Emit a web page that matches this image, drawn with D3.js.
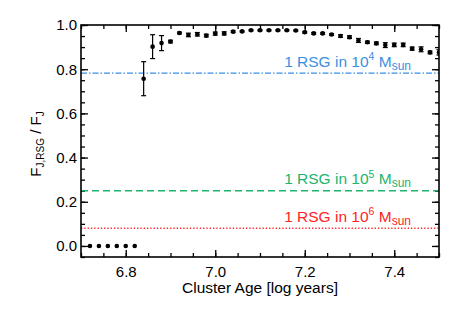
<!DOCTYPE html>
<html>
<head>
<meta charset="utf-8">
<script src="https://cdn.jsdelivr.net/npm/d3@7"></script>
<style>
  body { margin: 0; background: #fff; }
  svg text { font-family: "Liberation Sans", Arial, sans-serif; }
</style>
</head>
<body>
<div id="chart"></div>
<script>
// cluster ages (log years) and RSG flux fraction, with symmetric errors
const ages = [6.72, 6.74, 6.76, 6.78, 6.80, 6.82, 6.84, 6.86, 6.88, 6.90,
              6.92, 6.94, 6.96, 6.98, 7.00, 7.02, 7.04, 7.06, 7.08, 7.10,
              7.12, 7.14, 7.16, 7.18, 7.20, 7.22, 7.24, 7.26, 7.28, 7.30,
              7.32, 7.34, 7.36, 7.38, 7.40, 7.42, 7.44, 7.46, 7.48, 7.50];
const frac = [0.0, 0.0, 0.0, 0.0, 0.0, 0.0, 0.757, 0.902, 0.918, 0.925,
              0.964, 0.955, 0.958, 0.952, 0.961, 0.962, 0.970, 0.971, 0.976, 0.976,
              0.976, 0.976, 0.976, 0.975, 0.967, 0.962, 0.962, 0.957, 0.950, 0.945,
              0.930, 0.922, 0.917, 0.909, 0.910, 0.910, 0.893, 0.890, 0.876, 0.876];
const errs = [0, 0, 0, 0, 0, 0, 0.077, 0.054, 0.034, 0.006,
              0.004, 0.008, 0.008, 0.006, 0.007, 0.007, 0.004, 0.003, 0.003, 0.003,
              0.003, 0.003, 0.003, 0.003, 0.004, 0.004, 0.004, 0.004, 0.006, 0.006,
              0.009, 0.005, 0.006, 0.011, 0.008, 0.008, 0.007, 0.011, 0.006, 0.012];

// reference levels: 1 RSG in 10^4, 10^5, 10^6 Msun
const refPower = ["4", "5", "6"];
const refLevel = [0.782, 0.25, 0.08];
const refColor = ["#3b8fe2", "#21b46e", "#ff2424"];
const refDash = ["6,2,1.5,2", "7,4", "1.3,2"];

const xTicks = [6.8, 7.0, 7.2, 7.4];
const yTicks = [0.0, 0.2, 0.4, 0.6, 0.8, 1.0];

const width = 463, height = 309;
const margin = {top: 25, right: 24, bottom: 52, left: 81};

const svg = d3.select("#chart").append("svg")
    .attr("width", width)
    .attr("height", height);

const x = d3.scaleLinear().domain([6.7, 7.5]).range([margin.left, width - margin.right]);
const y = d3.scaleLinear().domain([-0.05, 1.0]).range([height - margin.bottom, margin.top]);

const x0 = x.range()[0], x1 = x.range()[1];
const y0 = y.range()[0], y1 = y.range()[1];

// clip for marks
svg.append("clipPath").attr("id", "plotclip")
  .append("rect")
    .attr("x", x0).attr("y", y1)
    .attr("width", x1 - x0).attr("height", y0 - y1);

const minorX = d3.range(6.7, 7.5001, 0.05);
const minorY = d3.range(-0.05, 1.0001, 0.05);

function styleAxis(g) {
    g.select(".domain").remove();
    g.selectAll("line").attr("stroke", "#000").attr("stroke-width", 1.3);
    g.selectAll("text").attr("font-size", 15).attr("fill", "#000");
}

// bottom
svg.append("g").attr("transform", `translate(0,${y0})`)
    .call(d3.axisBottom(x).tickValues(xTicks).tickFormat(d3.format(".1f")).tickSize(-7).tickPadding(9))
    .call(styleAxis);
svg.append("g").attr("transform", `translate(0,${y0})`)
    .call(d3.axisBottom(x).tickValues(minorX).tickFormat("").tickSize(-4))
    .call(styleAxis);
// top
svg.append("g").attr("transform", `translate(0,${y1})`)
    .call(d3.axisTop(x).tickValues(xTicks).tickFormat("").tickSize(-7))
    .call(styleAxis);
svg.append("g").attr("transform", `translate(0,${y1})`)
    .call(d3.axisTop(x).tickValues(minorX).tickFormat("").tickSize(-4))
    .call(styleAxis);
// left
svg.append("g").attr("transform", `translate(${x0},0)`)
    .call(d3.axisLeft(y).tickValues(yTicks).tickFormat(d3.format(".1f")).tickSize(-7).tickPadding(4))
    .call(styleAxis);
svg.append("g").attr("transform", `translate(${x0},0)`)
    .call(d3.axisLeft(y).tickValues(minorY).tickFormat("").tickSize(-4))
    .call(styleAxis);
// right
svg.append("g").attr("transform", `translate(${x1},0)`)
    .call(d3.axisRight(y).tickValues(yTicks).tickFormat("").tickSize(-7))
    .call(styleAxis);
svg.append("g").attr("transform", `translate(${x1},0)`)
    .call(d3.axisRight(y).tickValues(minorY).tickFormat("").tickSize(-4))
    .call(styleAxis);

// reference lines and labels
const plot = svg.append("g").attr("clip-path", "url(#plotclip)");

refLevel.forEach(function(v, i) {
    plot.append("line")
        .attr("x1", x0).attr("x2", x1)
        .attr("y1", y(v)).attr("y2", y(v))
        .attr("stroke", refColor[i])
        .attr("stroke-width", 1.4)
        .attr("stroke-dasharray", refDash[i]);

    const t = svg.append("text")
        .attr("x", 411)
        .attr("y", y(v) - 6.5)
        .attr("text-anchor", "end")
        .attr("font-size", 15.5)
        .attr("fill", refColor[i]);
    t.append("tspan").text("1 RSG in 10");
    t.append("tspan").attr("font-size", 10.5).attr("dy", -6.5).text(refPower[i]);
    t.append("tspan").attr("dy", 6.5).text(" M");
    t.append("tspan").attr("font-size", 12).attr("dy", 3).text("sun");
});

// error bars
const pts = ages.map(function(a, i) { return {age: a, f: frac[i], e: errs[i]}; });

const eb = plot.selectAll(".err")
    .data(pts.filter(function(d) { return d.e > 0; }))
    .enter().append("g")
    .attr("class", "err")
    .attr("stroke", "#000")
    .attr("stroke-width", 1.2);
eb.append("line")
    .attr("x1", function(d) { return x(d.age); })
    .attr("x2", function(d) { return x(d.age); })
    .attr("y1", function(d) { return y(d.f - d.e); })
    .attr("y2", function(d) { return y(d.f + d.e); });
eb.append("line")
    .attr("x1", function(d) { return x(d.age) - 2.5; })
    .attr("x2", function(d) { return x(d.age) + 2.5; })
    .attr("y1", function(d) { return y(d.f - d.e); })
    .attr("y2", function(d) { return y(d.f - d.e); });
eb.append("line")
    .attr("x1", function(d) { return x(d.age) - 2.5; })
    .attr("x2", function(d) { return x(d.age) + 2.5; })
    .attr("y1", function(d) { return y(d.f + d.e); })
    .attr("y2", function(d) { return y(d.f + d.e); });

plot.selectAll(".pt")
    .data(pts)
    .enter().append("circle")
    .attr("class", "pt")
    .attr("cx", function(d) { return x(d.age); })
    .attr("cy", function(d) { return y(d.f); })
    .attr("r", 2.3)
    .attr("fill", "#000");

// frame
svg.append("rect")
    .attr("x", x0).attr("y", y1)
    .attr("width", x1 - x0).attr("height", y0 - y1)
    .attr("fill", "none")
    .attr("stroke", "#000")
    .attr("stroke-width", 1.6);

// axis titles
svg.append("text")
    .attr("x", (x0 + x1) / 2)
    .attr("y", 293)
    .attr("text-anchor", "middle")
    .attr("font-size", 15.5)
    .text("Cluster Age [log years]");

const yl = svg.append("text")
    .attr("transform", `translate(41,${(y0 + y1) / 2 + 3}) rotate(-90)`)
    .attr("text-anchor", "middle")
    .attr("font-size", 15);
yl.append("tspan").text("F");
yl.append("tspan").attr("font-size", 10).attr("dy", 3).text("J,RSG");
yl.append("tspan").attr("dy", -3).text(" / F");
yl.append("tspan").attr("font-size", 10).attr("dy", 3).text("J");
</script>
</body>
</html>
